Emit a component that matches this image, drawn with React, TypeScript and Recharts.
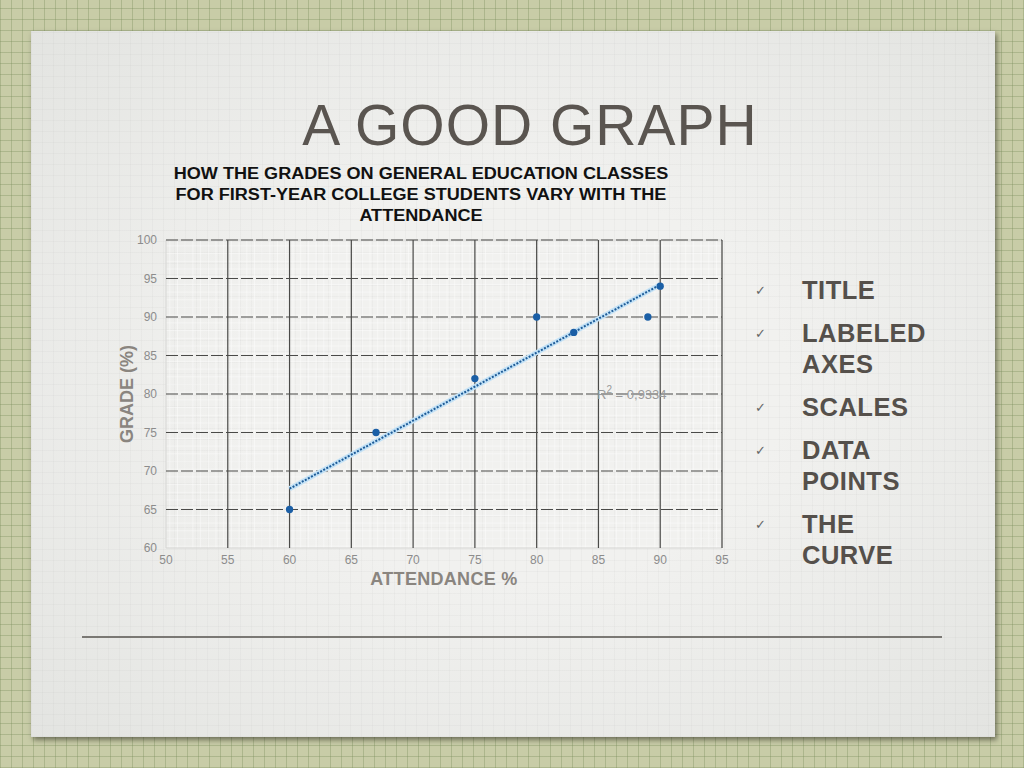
import {
  ComposedChart,
  Scatter,
  Line,
  XAxis,
  YAxis,
  ZAxis,
  ReferenceLine,
  ReferenceArea,
  ReferenceDot,
} from 'recharts';

// observed points (attendance %, grade %)
const attendance = [60, 67, 75, 80, 83, 89, 90];
const grades = [65, 75, 82, 90, 88, 90, 94];

// linear trend line end points
const trendX = [60, 90];
const trendY = [67.7, 94.2];

const xTicks = [50, 55, 60, 65, 70, 75, 80, 85, 90, 95];
const yTicks = [60, 65, 70, 75, 80, 85, 90, 95, 100];

const checklist = [['TITLE'], ['LABELED', 'AXES'], ['SCALES'], ['DATA', 'POINTS'], ['THE', 'CURVE']];

const points = attendance.map((x, i) => ({ x, y: grades[i] }));
const trend = trendX.map((x, i) => ({ x, y: trendY[i] }));

const AXIS_TEXT = '#8c8c8c';
const BLUE = '#1b5fa6';
const FONT = '"Liberation Sans", Arial, sans-serif';

function YLabel({ viewBox }: any) {
  const cx = viewBox.x + 27;
  const cy = viewBox.y + viewBox.height / 2;
  return (
    <text
      x={cx}
      y={cy}
      transform={`rotate(-90 ${cx} ${cy})`}
      textAnchor="middle"
      dominantBaseline="central"
      fontFamily={FONT}
      fontWeight="bold"
      fontSize={18}
      fill="#8a857f"
    >
      GRADE (%)
    </text>
  );
}

function XLabel({ viewBox }: any) {
  return (
    <text
      x={viewBox.x + viewBox.width / 2}
      y={viewBox.y + 31}
      textAnchor="middle"
      dominantBaseline="central"
      fontFamily={FONT}
      fontWeight="bold"
      fontSize={18}
      fill="#8a857f"
      letterSpacing={0.3}
    >
      ATTENDANCE %
    </text>
  );
}

function R2Label({ viewBox }: any) {
  return (
    <text
      x={viewBox.x}
      y={viewBox.y}
      textAnchor="middle"
      dominantBaseline="central"
      fontFamily={FONT}
      fontSize={13}
      fill="#9a9a9a"
    >
      R<tspan dy={-5} fontSize={10}>2</tspan>
      <tspan dy={5}> = 0,9334</tspan>
    </text>
  );
}

export default function App() {
  return (
    <div
      style={{
        position: 'absolute',
        left: 0,
        top: 0,
        width: 1024,
        height: 768,
        overflow: 'hidden',
        backgroundColor: '#c8cca7',
        backgroundImage:
          'repeating-linear-gradient(0deg, rgba(120,140,90,0.35) 0 1px, transparent 1px 11px), repeating-linear-gradient(90deg, rgba(120,140,90,0.35) 0 1px, transparent 1px 11px)',
      }}
    >
      <div
        style={{
          position: 'absolute',
          left: 31,
          top: 31,
          width: 964,
          height: 706,
          backgroundColor: '#ececea',
          backgroundImage:
            'repeating-linear-gradient(0deg, rgba(0,0,0,0.025) 0 1px, transparent 1px 11px), repeating-linear-gradient(90deg, rgba(0,0,0,0.025) 0 1px, transparent 1px 11px), radial-gradient(ellipse at center, #f1f1ef 40%, #e3e4e1 100%)',
          boxShadow: '2px 3px 5px rgba(40,40,30,0.55)',
        }}
      />

      <div
        style={{
          position: 'absolute',
          left: 0,
          top: 93,
          width: 1060,
          textAlign: 'center',
          fontFamily: FONT,
          fontSize: 57,
          letterSpacing: 1,
          color: '#5a5550',
          lineHeight: '64px',
        }}
      >
        A GOOD GRAPH
      </div>

      <div
        style={{
          position: 'absolute',
          left: 171,
          top: 163,
          width: 500,
          textAlign: 'center',
          fontFamily: FONT,
          fontWeight: 'bold',
          fontSize: 16,
          lineHeight: '21px',
          color: '#111',
          transform: 'scaleX(1.13)',
          transformOrigin: '250px 0',
          whiteSpace: 'nowrap',
        }}
      >
        HOW THE GRADES ON GENERAL EDUCATION CLASSES
        <br />
        FOR FIRST-YEAR COLLEGE STUDENTS VARY WITH THE
        <br />
        ATTENDANCE
      </div>

      <div style={{ position: 'absolute', left: 100, top: 230 }}>
        <ComposedChart width={640} height={370} margin={{ top: 10, right: 18, left: 0, bottom: 0 }}>
          <defs>
            <pattern id="minorGrid" width="7.7" height="7.7" patternUnits="userSpaceOnUse">
              <path d="M 7.7 0 L 0 0 0 7.7" fill="none" stroke="#ffffff" strokeWidth={1} opacity={0.8} />
            </pattern>
          </defs>
          <XAxis
            type="number"
            dataKey="x"
            domain={[50, 95]}
            ticks={xTicks}
            axisLine={false}
            tickLine={false}
            tickSize={0}
            tickMargin={7}
            height={52}
            tick={{ fill: AXIS_TEXT, fontSize: 12, fontFamily: FONT }}
            label={<XLabel />}
          />
          <YAxis
            type="number"
            dataKey="y"
            domain={[60, 100]}
            ticks={yTicks}
            axisLine={false}
            tickLine={false}
            tickSize={0}
            tickMargin={9}
            width={66}
            tick={{ fill: AXIS_TEXT, fontSize: 12, fontFamily: FONT }}
            label={<YLabel />}
          />
          <ZAxis range={[42, 42]} />
          <ReferenceArea
            x1={50}
            x2={95}
            y1={60}
            y2={100}
            fill="url(#minorGrid)"
            fillOpacity={1}
            stroke="#d6d6d4"
            strokeWidth={1}
          />
          {yTicks.slice(1).map((v) => (
            <ReferenceLine key={'h' + v} y={v} stroke="#4a4a48" strokeWidth={1.2} strokeDasharray="12 3" />
          ))}
          {xTicks.slice(1).map((v) => (
            <ReferenceLine key={'v' + v} x={v} stroke="#4a4a48" strokeWidth={1.2} />
          ))}
          <Line
            data={trend}
            dataKey="y"
            type="linear"
            stroke="#c4e2f6"
            strokeWidth={5}
            dot={false}
            isAnimationActive={false}
          />
          <Line
            data={trend}
            dataKey="y"
            type="linear"
            stroke="#1e5c98"
            strokeWidth={2}
            strokeDasharray="2 1.5"
            dot={false}
            isAnimationActive={false}
          />
          <Scatter data={points} fill={BLUE} shape="circle" isAnimationActive={false} />
          <ReferenceDot x={87.7} y={80} r={0} label={<R2Label />} />
        </ComposedChart>
      </div>

      <div style={{ position: 'absolute', left: 755, top: 275, fontFamily: FONT, color: '#55504b' }}>
        {checklist.map((item, i) => (
          <div key={i} style={{ display: 'flex', marginBottom: 12 }}>
            <div style={{ width: 47, fontSize: 13, lineHeight: '31px', color: '#666', fontFamily: '"DejaVu Sans", sans-serif' }}>
              ✓
            </div>
            <div style={{ fontSize: 25.5, fontWeight: 'bold', lineHeight: '31px', letterSpacing: 0.5 }}>
              {item.map((t) => (
                <div key={t}>{t}</div>
              ))}
            </div>
          </div>
        ))}
      </div>

      <div
        style={{
          position: 'absolute',
          left: 82,
          top: 636,
          width: 860,
          height: 2,
          background: '#6e6c67',
          opacity: 0.9,
        }}
      />
    </div>
  );
}
